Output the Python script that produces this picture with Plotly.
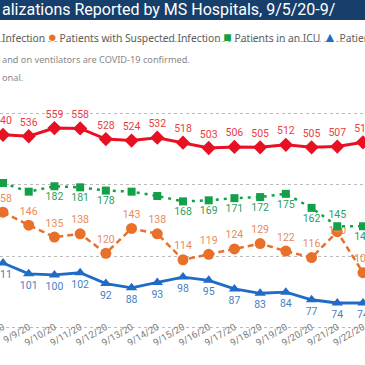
import plotly.graph_objects as go

dates = ["9/8/20", "9/9/20", "9/10/20", "9/11/20", "9/12/20", "9/13/20", "9/14/20",
         "9/15/20", "9/16/20", "9/17/20", "9/18/20", "9/19/20", "9/20/20", "9/21/20", "9/22/20"]
confirmed = [540, 536, 559, 558, 528, 524, 532, 518, 503, 506, 505, 512, 505, 507, 519]
suspected = [158, 146, 135, 138, 120, 143, 138, 114, 119, 124, 129, 122, 116, 140, 102]
icu = [185, 177, 182, 181, 178, 177, 173, 168, 169, 171, 172, 175, 162, 145, 145]
vent = [111, 101, 100, 102, 92, 88, 93, 98, 95, 87, 83, 84, 77, 74, 74]
icu_label_shown = [0, 0, 1, 1, 1, 0, 0, 1, 1, 1, 1, 1, 1, 1, 1]

title_text = "alizations Reported by MS Hospitals, 9/5/20-9/"
note1 = "and on ventilators are COVID-19 confirmed."
note2 = "onal."

RED = "#E81123"
ORANGE = "#E8702A"
GREEN = "#13A049"
BLUE = "#1F6CC7"
LBL_FONT = "Roboto, sans-serif"

H = 365
B = 36
PH = H - B


def py(px):
    return 1 - px / PH


fig = go.Figure()

fig.add_trace(go.Scatter(
    x=dates, y=suspected, mode="lines+markers+text", yaxis="y",
    line=dict(color=ORANGE, width=2.5, dash="6px,4px"),
    marker=dict(symbol="circle", size=11, color=ORANGE),
    text=[str(v) for v in suspected],
    textposition=["top center"] * 13 + ["middle center", "top center"],
    textfont=dict(color="#E98A5B", size=10.5, family=LBL_FONT),
    cliponaxis=False, showlegend=False))

fig.add_trace(go.Scatter(
    x=dates, y=icu, mode="lines+markers+text", yaxis="y",
    line=dict(color=GREEN, width=2.5, dash="3px,5px"),
    marker=dict(symbol="square", size=8, color=GREEN),
    text=[str(v) if s else "" for v, s in zip(icu, icu_label_shown)],
    textposition=["bottom center"] * 13 + ["top center", "bottom center"],
    textfont=dict(color="#2E9E5B", size=10.5, family=LBL_FONT),
    cliponaxis=False, showlegend=False))

fig.add_trace(go.Scatter(
    x=dates, y=vent, mode="lines+markers+text", yaxis="y",
    line=dict(color=BLUE, width=2.8),
    marker=dict(symbol="triangle-up", size=10, color=BLUE),
    text=[str(v) for v in vent],
    textposition="bottom center",
    textfont=dict(color="#4A7FC0", size=10.5, family=LBL_FONT),
    cliponaxis=False, showlegend=False))

fig.add_trace(go.Scatter(
    x=dates, y=confirmed, mode="lines+markers+text", yaxis="y2",
    line=dict(color=RED, width=3),
    marker=dict(symbol="diamond", size=11, color=RED),
    text=[str(v) for v in confirmed],
    textposition="top center",
    textfont=dict(color="#E8403F", size=10.5, family=LBL_FONT),
    cliponaxis=False, showlegend=False))

fig.update_layout(
    width=365, height=H,
    margin=dict(l=0, r=0, t=0, b=B, pad=0),
    paper_bgcolor="white", plot_bgcolor="white",
    xaxis=dict(type="category", range=[-0.117, 14.078], showgrid=False, zeroline=False,
               showline=False, ticks="", tickangle=-30, ticklabelstandoff=-10,
               tickfont=dict(color="#777777", size=9.5, family=LBL_FONT), automargin=False),
    yaxis=dict(range=[49.95, 354.3], showgrid=False, zeroline=False, showticklabels=False,
               ticks="", automargin=False),
    yaxis2=dict(range=[-3.9, 917.6], overlaying="y", side="right", showgrid=True,
                gridcolor="#BBBBBB", gridwidth=1, griddash="dot",
                tickvals=[0, 200, 400, 600, 800], zeroline=False,
                showticklabels=False, ticks="", automargin=False),
    shapes=[dict(type="rect", xref="paper", yref="paper", x0=-0.1, x1=1.1,
                 y0=py(20), y1=1.05, fillcolor="#173F6C", line=dict(width=0), layer="above")],
    annotations=[
        dict(text=title_text, xref="paper", yref="paper", x=0, y=py(10), xanchor="left",
             yanchor="middle", showarrow=False,
             font=dict(color="white", size=16, family="Roboto, sans-serif")),
        dict(text=("Infection <span style='color:%s;font-size:15px'>●</span> Patients with Suspected Infection "
                   "<span style='color:%s;font-size:14px'>■</span> Patients in an ICU "
                   "<span style='color:%s;font-size:14px'>▲</span> Patients on Ventilators") % (ORANGE, GREEN, BLUE),
             xref="paper", yref="paper", x=0, y=py(36), xanchor="left", yanchor="middle",
             showarrow=False, font=dict(color="#605E5C", size=10.3, family="Noto Sans, sans-serif")),
        dict(text=note1, xref="paper", yref="paper", x=0, y=py(59), xanchor="left",
             yanchor="middle", showarrow=False,
             font=dict(color="#888888", size=9.2, family="Noto Sans, sans-serif")),
        dict(text=note2, xref="paper", yref="paper", x=0, y=py(78), xanchor="left",
             yanchor="middle", showarrow=False,
             font=dict(color="#888888", size=9.2, family="Noto Sans, sans-serif")),
        dict(text="9/23/20", xref="paper", yref="paper", x=0.985, y=py(322), xanchor="left",
             yanchor="top", textangle=-30, showarrow=False,
             font=dict(color="#777777", size=9.5, family=LBL_FONT)),
    ],
)

fig.write_html("out.html", config={"displayModeBar": False},
               post_script="document.body.style.margin='0';")
